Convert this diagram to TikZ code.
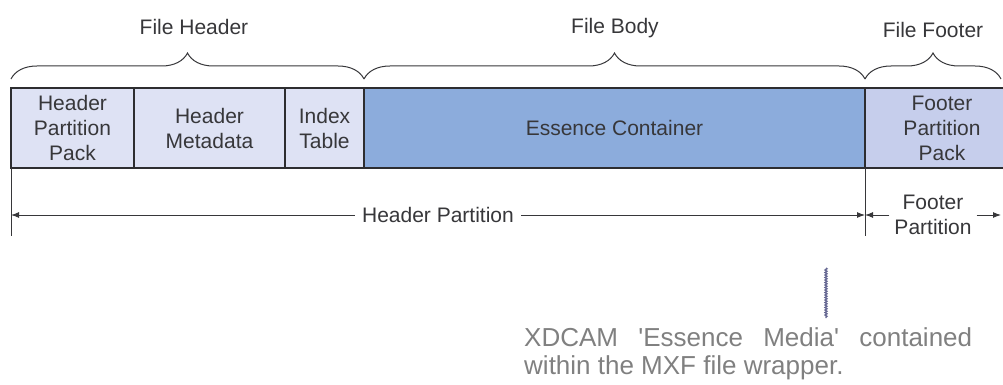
\documentclass[tikz,border=0pt]{standalone}
\usepackage{fontspec}
\setmainfont{Liberation Sans}
\usetikzlibrary{arrows.meta,decorations.pathreplacing,decorations.pathmorphing}

\definecolor{hdrfill}{RGB}{222,226,244}
\definecolor{essfill}{RGB}{140,172,220}
\definecolor{ftrfill}{RGB}{198,206,236}
\definecolor{boxline}{RGB}{45,45,48}
\definecolor{txtgray}{RGB}{55,55,58}
\definecolor{notegray}{RGB}{128,128,128}
\definecolor{wavecol}{RGB}{100,102,145}

\newcommand{\lblfont}{\fontsize{21}{25}\selectfont}
\newcommand{\notefont}{\fontsize{26}{28}\selectfont}

\begin{document}
\begin{tikzpicture}[x=1pt, y=-1pt,
  seg/.style={draw=boxline, line width=2.5pt, minimum height=80, inner sep=0pt,
    outer sep=0pt, align=center, font=\lblfont, text=txtgray},
  lbl/.style={font=\lblfont, text=txtgray, align=center},
  brc/.style={draw=txtgray, line width=1pt, decorate, decoration={brace, amplitude=26pt}},
  tick/.style={draw=txtgray, line width=1pt},
  dimarr/.style={draw=txtgray, line width=1pt, -{Latex[length=8pt,width=6pt]}},
  wavy/.style={draw=wavecol, line width=1.3pt, decorate, decoration={snake, amplitude=1pt, segment length=2.5pt}}]
\useasboundingbox (0,0) rectangle (1003,385);

%boxes
\foreach \nm/\cx/\bw/\fc/\txt in {hpp/72.5/123/hdrfill/{Header\\Partition\\Pack},
    hmd/209.5/151/hdrfill/{Header\\Metadata}, idx/324.5/79/hdrfill/{Index\\Table},
    ess/614.5/501/essfill/{Essence Container}, fpp/942/154/ftrfill/{Footer\\Partition\\Pack}} {
  \node[seg, fill=\fc, minimum width=\bw] (\nm) at (\cx,128) {\txt};
}

%braces
\node[lbl] (fhdr) at (194,27) {File Header};
\node[lbl] (fbody) at (615,28) {File Body};
\node[lbl] (fftr) at (933,30) {File Footer};
\draw[brc] ([yshift=9pt]hpp.north west) -- ([yshift=9pt]idx.north east);
\draw[brc] ([yshift=9pt]ess.north west) -- ([yshift=9pt]ess.north east);
\draw[brc] ([yshift=9pt]fpp.north west) -- ([yshift=9pt,xshift=-18pt]fpp.north east);

%partitions
\coordinate (tickL) at (11,236);
\coordinate (tickM) at (865,236);
\coordinate (edgeR) at (1001,236);
\draw[tick] (hpp.south west) -- (tickL);
\draw[tick] (fpp.south west) -- (tickM);

\node[lbl, fill=white, inner sep=7pt] (hpart) at (438,215) {Header Partition};
\draw[dimarr] (hpart.west) -- (hpart.west -| tickL);
\draw[dimarr] (hpart.east) -- (hpart.east -| tickM);

\node[lbl, fill=white, inner xsep=5pt, inner ysep=0pt] (fpart) at (933,215) {Footer\\Partition};
\draw[dimarr] (fpart.west) -- (fpart.west -| tickM);
\draw[dimarr] (fpart.east) -- (fpart.east -| edgeR);

%note
\coordinate (wtop) at (826,268);
\coordinate (wbot) at (826,318);
\draw[wavy] (wtop) -- (wbot);
\node[anchor=north west, inner sep=0pt, text width=448, align=justify, font=\notefont, text=notegray] (note) at (524,327)
  {XDCAM \textquotesingle Essence Media\textquotesingle\ contained\linebreak within the MXF file wrapper.};
\end{tikzpicture}
\end{document}
